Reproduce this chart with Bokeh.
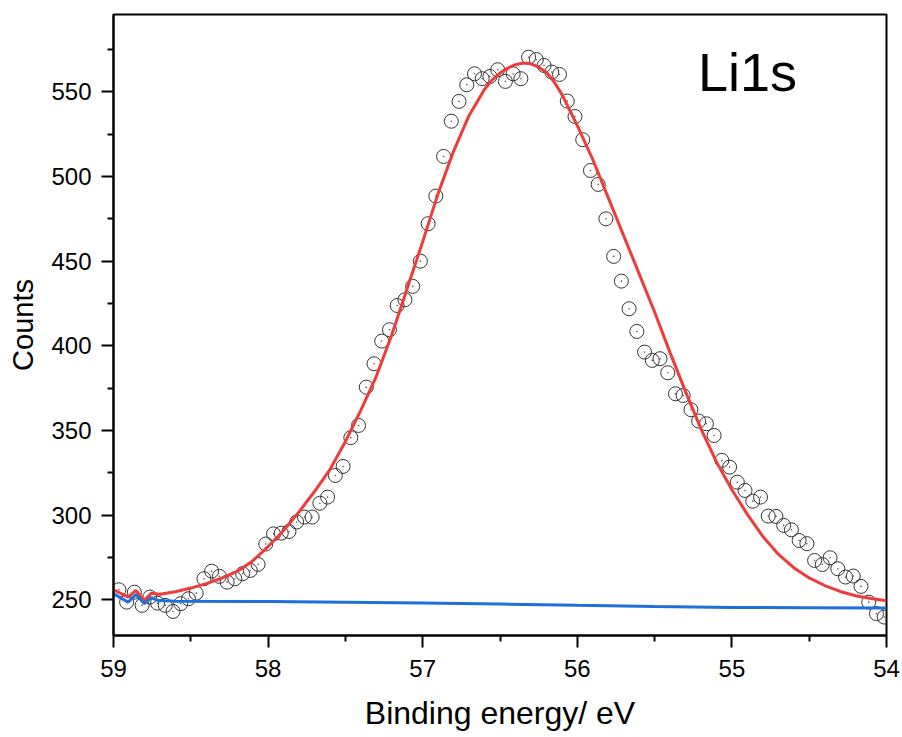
from bokeh.plotting import figure
from bokeh.models import Range1d, FixedTicker, Label
from bokeh.embed import file_html
from bokeh.resources import INLINE

# Measured XPS data (Li1s)
energy = [58.965, 58.915, 58.865, 58.815, 58.765, 58.715, 58.665, 58.615, 58.565, 58.515,
          58.465, 58.415, 58.365, 58.315, 58.265, 58.215, 58.165, 58.115, 58.065, 58.015,
          57.965, 57.915, 57.865, 57.815, 57.765, 57.715, 57.665, 57.615, 57.565, 57.515,
          57.465, 57.415, 57.365, 57.315, 57.265, 57.215, 57.165, 57.115, 57.065, 57.015,
          56.965, 56.915, 56.865, 56.815, 56.765, 56.715, 56.665, 56.615, 56.565, 56.515,
          56.465, 56.415, 56.365, 56.315, 56.265, 56.215, 56.165, 56.115, 56.065, 56.015,
          55.965, 55.915, 55.865, 55.815, 55.765, 55.715, 55.665, 55.615, 55.565, 55.515,
          55.465, 55.415, 55.365, 55.315, 55.265, 55.215, 55.165, 55.115, 55.065, 55.015,
          54.965, 54.915, 54.865, 54.815, 54.765, 54.715, 54.665, 54.615, 54.565, 54.515,
          54.465, 54.415, 54.365, 54.315, 54.265, 54.215, 54.165, 54.115, 54.065, 54.015]
counts = [256.0, 248.7, 254.6, 246.8, 251.7, 248.1, 246.8, 243.2, 247.8, 250.7,
          254.0, 262.5, 267.0, 263.9, 260.5, 262.5, 265.5, 267.4, 271.0, 283.0,
          289.0, 289.4, 290.4, 296.0, 298.9, 298.9, 307.1, 310.7, 323.5, 328.8,
          345.8, 353.0, 375.6, 389.4, 402.8, 409.5, 423.8, 427.2, 435.1, 450.0,
          472.1, 488.4, 511.8, 532.6, 544.3, 554.1, 560.6, 557.7, 559.0, 563.0,
          556.1, 560.6, 557.7, 570.4, 569.0, 565.5, 561.6, 560.2, 544.5, 535.4,
          521.7, 503.5, 495.3, 475.0, 452.8, 438.2, 421.9, 408.5, 396.3, 391.4,
          392.4, 384.1, 371.7, 370.7, 362.3, 355.6, 354.0, 347.1, 332.4, 328.4,
          319.5, 314.6, 308.3, 310.7, 299.5, 299.3, 294.0, 291.4, 285.1, 283.2,
          273.3, 270.9, 274.9, 268.4, 263.5, 264.1, 258.0, 248.7, 241.9, 239.9]

# Fit envelope (red)
fit_x = [59.0, 58.905, 58.855, 58.8, 58.755, 58.7, 58.6, 58.5, 58.4, 58.3, 58.2, 58.1, 58.0,
         57.9, 57.8, 57.7, 57.6, 57.5, 57.4, 57.3, 57.2, 57.1, 57.0, 56.9, 56.8, 56.7, 56.6,
         56.55, 56.5, 56.45, 56.4, 56.35, 56.3, 56.25, 56.2, 56.15, 56.1, 56.0, 55.9, 55.8,
         55.7, 55.6, 55.5, 55.4, 55.3, 55.2, 55.1, 55.0, 54.9, 54.8, 54.7, 54.6, 54.5, 54.4,
         54.3, 54.2, 54.1, 54.0]
fit_y = [256.0, 251.7, 255.6, 249.7, 254.0, 253.4, 254.8, 257.0, 259.6, 262.8, 266.8, 273.0, 281.5,
         291.0, 302.0, 314.0, 327.0, 343.5, 362.0, 382.0, 406.5, 434.0, 461.5, 490.0, 515.0, 536.0, 551.5,
         557.0, 561.0, 564.0, 566.0, 567.0, 566.5, 564.5, 561.5, 555.8, 548.5, 530.0, 510.0, 487.5,
         465.0, 442.5, 420.0, 396.0, 373.0, 351.0, 331.5, 315.0, 300.5, 287.5, 277.0, 269.0, 263.0, 258.5,
         255.0, 252.5, 250.8, 249.5]

# Background (blue)
bg_x = [59.0, 58.905, 58.855, 58.8, 58.755, 58.71, 58.6, 58.0, 57.5, 57.0, 56.5, 56.0, 55.5, 55.0, 54.5, 54.0]
bg_y = [253.6, 248.7, 253.2, 247.8, 251.3, 249.6, 249.2, 249.0, 248.7, 248.2, 247.6, 246.8, 246.1, 245.6, 245.4, 245.3]

x_major = [54, 55, 56, 57, 58, 59]
x_minor = [54.5, 55.5, 56.5, 57.5, 58.5]
y_major = [250, 300, 350, 400, 450, 500, 550]
y_minor = [275, 325, 375, 425, 475, 525, 575]

FONT = "Liberation Sans"

p = figure(width=902, height=737, x_range=Range1d(59, 54), y_range=Range1d(229, 595.6),
           output_backend="svg", toolbar_location=None,
           min_border_left=113, min_border_right=16, min_border_top=14, min_border_bottom=102)

p.xgrid.visible = False
p.ygrid.visible = False
p.outline_line_color = "black"
p.outline_line_width = 2
p.background_fill_color = "white"
p.border_fill_color = "white"

for ax in (p.xaxis[0], p.yaxis[0]):
    ax.axis_line_width = 2
    ax.axis_line_color = "black"
    ax.major_tick_out = 12
    ax.major_tick_in = 0
    ax.minor_tick_out = 6
    ax.minor_tick_in = 0
    ax.major_tick_line_width = 2
    ax.minor_tick_line_width = 2
    ax.major_tick_line_color = "black"
    ax.minor_tick_line_color = "black"
    ax.major_label_text_font = FONT
    ax.major_label_text_font_size = "24px"
    ax.major_label_text_color = "black"
    ax.axis_label_text_font = FONT
    ax.axis_label_text_font_style = "normal"
    ax.axis_label_text_color = "black"

p.xaxis[0].axis_label_text_font_size = "32px"
p.yaxis[0].axis_label_text_font_size = "29px"
p.xaxis[0].ticker = FixedTicker(ticks=x_major, minor_ticks=x_minor)
p.yaxis[0].ticker = FixedTicker(ticks=y_major, minor_ticks=y_minor)
p.xaxis[0].axis_label = "Binding energy/ eV"
p.yaxis[0].axis_label = "Counts"
p.xaxis[0].major_label_standoff = 12
p.xaxis[0].axis_label_standoff = 15
p.yaxis[0].major_label_standoff = 10
p.yaxis[0].axis_label_standoff = 9

p.scatter(energy, counts, marker="circle", size=14, fill_color=None,
          line_color="#333333", line_width=1)
p.scatter(energy, counts, marker="circle", size=1.6, fill_color="#555555", line_color=None)
p.line(fit_x, fit_y, line_color="#ee3b3b", line_width=3)
p.line(bg_x, bg_y, line_color="#1f6fdb", line_width=3)

p.add_layout(Label(x=55.22, y=561.7, text="Li1s", text_font=FONT, text_font_size="54px",
                   text_align="left", text_baseline="alphabetic", text_color="black"))

open("out.html", "w").write(file_html(p, INLINE))
